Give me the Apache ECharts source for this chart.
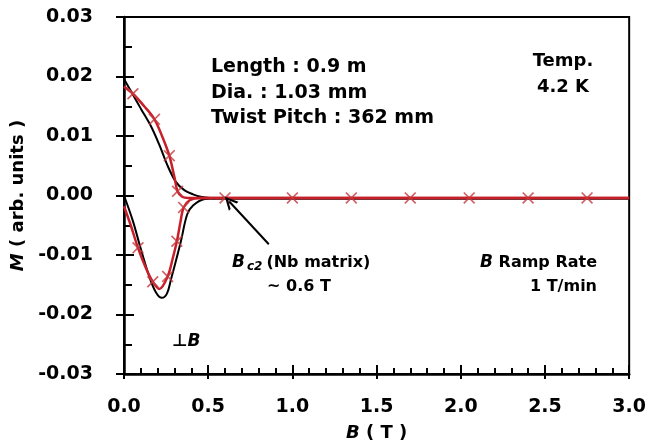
<!DOCTYPE html>
<html>
<head>
<meta charset="utf-8">
<script src="https://cdn.jsdelivr.net/npm/echarts@6/dist/echarts.min.js"></script>
<style>html,body{margin:0;padding:0;background:#fff;}#c{width:649px;height:447px;}</style>
</head>
<body>
<div id="c"></div>
<script>
// Black curve (measured), upper branch and lower branch
var blackUpB = [0, 0.05, 0.10, 0.161, 0.21, 0.259, 0.308, 0.358, 0.41, 0.456, 0.55, 3.0];
var blackUpM = [0.0196, 0.0171, 0.0146, 0.0116, 0.0085, 0.0050, 0.0023, 0.0009, 0.0002, -0.0002, -0.0005, -0.0005];
var blackLoB = [0, 0.053, 0.098, 0.151, 0.19, 0.225, 0.255, 0.28, 0.31, 0.338, 0.375, 0.41, 0.48, 0.55, 3.0];
var blackLoM = [0, -0.0043, -0.0088, -0.0137, -0.0163, -0.0172, -0.0165, -0.0140, -0.0108, -0.0077, -0.0032, -0.0017, -0.0006, -0.0005, -0.0005];
// Red curve (measured) with its marker points
var redUpB = [0, 0.053, 0.12, 0.181, 0.23, 0.269, 0.30, 0.318, 0.345, 0.38, 0.45, 3.0];
var redUpM = [0.0183, 0.0171, 0.0150, 0.0128, 0.0097, 0.0067, 0.0030, 0.0007, -0.0002, -0.0004, -0.0004, -0.0004];
var redLoB = [0, 0.04, 0.083, 0.13, 0.171, 0.21, 0.259, 0.29, 0.314, 0.335, 0.354, 0.39, 0.45, 3.0];
var redLoM = [-0.0018, -0.0050, -0.0088, -0.0122, -0.0145, -0.0157, -0.0136, -0.0105, -0.0077, -0.0045, -0.0020, -0.0008, -0.0004, -0.0004];
var redMarkB = [0.053, 0.181, 0.269, 0.318, 0.083, 0.171, 0.259, 0.314, 0.354, 0.6, 1.0, 1.35, 1.7, 2.05, 2.4, 2.75];
var redMarkM = [0.0171, 0.0128, 0.0067, 0.0007, -0.0088, -0.0145, -0.0136, -0.0077, -0.0020, -0.0004, -0.0004, -0.0004, -0.0004, -0.0004, -0.0004, -0.0004];
// Axis ticks
var xTicks = [0, 0.5, 1.0, 1.5, 2.0, 2.5, 3.0];
var yTicks = [-0.03, -0.02, -0.01, 0.00, 0.01, 0.02, 0.03];
// Arrow annotation (data coords): from tail to head
var arrowFrom = [0.86, -0.0082];
var arrowTo = [0.625, -0.0010];

function zip(a, b) { return a.map(function (v, i) { return [v, b[i]]; }); }

var FONT = 'DejaVu Sans';
var chart = echarts.init(document.getElementById('c'), null, {renderer: 'canvas'});
var xMin = xTicks[0], xMax = xTicks[xTicks.length - 1];
var yMin = yTicks[0], yMax = yTicks[yTicks.length - 1];
var xInt = xTicks[1] - xTicks[0], yInt = 0.01;

var crossPath = 'path://M0,1 L1,0 L5,4 L9,0 L10,1 L6,5 L10,9 L9,10 L5,6 L1,10 L0,9 L4,5 Z';
var openArrow = 'path://M0,10 L5,0 L10,10 L8.2,10 L5,3.6 L1.8,10 Z';

var option = {
  animation: false,
  backgroundColor: '#fff',
  grid: {left: 124, right: 16, top: 17, bottom: 70, show: true, borderColor: '#000', borderWidth: 2, backgroundColor: 'transparent'},
  xAxis: [{
    type: 'value', min: xMin, max: xMax, interval: xInt, position: 'bottom',
    axisLine: {show: true, onZero: false, lineStyle: {color: '#000', width: 2.5}},
    axisTick: {show: true, inside: true, length: 9, lineStyle: {color: '#000', width: 2}},
    minorTick: {show: true, splitNumber: 5, length: 6, lineStyle: {color: '#000', width: 2}},
    splitLine: {show: false}, minorSplitLine: {show: false},
    axisLabel: {margin: 24, color: '#000', fontFamily: FONT, fontWeight: 'bold', fontSize: 19,
      formatter: function (v) { return v.toFixed(1); }},
    name: '{i|B} ( T )', nameLocation: 'middle', nameGap: 50,
    nameTextStyle: {color: '#000', fontFamily: FONT, fontWeight: 'bold', fontSize: 18,
      rich: {i: {fontStyle: 'italic', fontWeight: 'bold', fontFamily: FONT, fontSize: 18, color: '#000'}}}
  }, {
    type: 'value', min: xMin, max: xMax, interval: xInt, position: 'bottom',
    axisLine: {show: false, onZero: false},
    axisTick: {show: true, inside: false, length: 5, lineStyle: {color: '#000', width: 2}},
    axisLabel: {show: false}, splitLine: {show: false}
  }],
  yAxis: [{
    type: 'value', min: yMin, max: yMax, interval: yInt, position: 'left',
    axisLine: {show: true, onZero: false, lineStyle: {color: '#000', width: 2.5}},
    axisTick: {show: true, inside: true, length: 10, lineStyle: {color: '#000', width: 2}},
    minorTick: {show: true, splitNumber: 2, length: 8, lineStyle: {color: '#000', width: 2}},
    splitLine: {show: false}, minorSplitLine: {show: false},
    axisLabel: {margin: 31, color: '#000', fontFamily: FONT, fontWeight: 'bold', fontSize: 19,
      formatter: function (v) { return (Math.abs(v) < 1e-9 ? 0 : v).toFixed(2); }},
    name: '{i|M} ( arb. units )', nameLocation: 'middle', nameGap: 96, nameRotate: 90,
    nameTextStyle: {color: '#000', fontFamily: FONT, fontWeight: 'bold', fontSize: 18,
      rich: {i: {fontStyle: 'italic', fontWeight: 'bold', fontFamily: FONT, fontSize: 18, color: '#000'}}}
  }, {
    type: 'value', min: yMin, max: yMax, interval: yInt, position: 'left',
    axisLine: {show: false, onZero: false},
    axisTick: {show: true, inside: false, length: 8, lineStyle: {color: '#000', width: 2}},
    axisLabel: {show: false}, splitLine: {show: false}
  }],
  series: [
    {type: 'line', data: zip(blackUpB, blackUpM), smooth: 0.35, symbol: 'none', lineStyle: {color: '#000', width: 2}, z: 2},
    {type: 'line', data: zip(blackLoB, blackLoM), smooth: 0.35, symbol: 'none', lineStyle: {color: '#000', width: 2}, z: 2,
      markLine: {silent: true, symbol: ['none', openArrow], symbolSize: 13, label: {show: false},
        lineStyle: {color: '#000', width: 2, type: 'solid'},
        data: [[{coord: arrowFrom}, {coord: arrowTo}]]}},
    {type: 'line', data: zip(redUpB, redUpM), smooth: 0.35, symbol: 'none', lineStyle: {color: '#c8202a', width: 2.5}, z: 3},
    {type: 'line', data: zip(redLoB, redLoM), smooth: 0.35, symbol: 'none', lineStyle: {color: '#c8202a', width: 2.5}, z: 3},
    {type: 'scatter', data: zip(redMarkB, redMarkM), symbol: crossPath, symbolSize: 12, itemStyle: {color: '#c33a3f'}, z: 4}
  ],
  graphic: [
    {type: 'text', left: 211, top: 58, style: {text: 'Length : 0.9 m', font: 'bold 19px "DejaVu Sans"', fill: '#000'}},
    {type: 'text', left: 211, top: 84, style: {text: 'Dia. : 1.03 mm', font: 'bold 19px "DejaVu Sans"', fill: '#000'}},
    {type: 'text', left: 211, top: 109, style: {text: 'Twist Pitch : 362 mm', font: 'bold 19px "DejaVu Sans"', fill: '#000'}},
    {type: 'text', x: 563, y: 61, style: {text: 'Temp.', font: 'bold 18px "DejaVu Sans"', fill: '#000', align: 'center', verticalAlign: 'middle'}},
    {type: 'text', x: 563, y: 87, style: {text: '4.2 K', font: 'bold 18px "DejaVu Sans"', fill: '#000', align: 'center', verticalAlign: 'middle'}},
    {type: 'text', x: 232, y: 263, style: {text: '{i|B}{s|c2}(Nb matrix)', font: 'bold 16px "DejaVu Sans"', fill: '#000', verticalAlign: 'middle',
      rich: {i: {font: 'italic bold 17px "DejaVu Sans"', fill: '#000', padding: [0, 2, 0, 0]}, s: {font: 'italic bold 12px "DejaVu Sans"', fill: '#000', padding: [8, 4, 0, 0]}}}},
    {type: 'text', x: 299, y: 287, style: {text: '~ 0.6 T', font: 'bold 16px "DejaVu Sans"', fill: '#000', align: 'center', verticalAlign: 'middle'}},
    {type: 'text', x: 597, y: 263, style: {text: '{i|B} Ramp Rate', font: 'bold 16px "DejaVu Sans"', fill: '#000', align: 'right', verticalAlign: 'middle',
      rich: {i: {font: 'italic bold 17px "DejaVu Sans"', fill: '#000'}}}},
    {type: 'text', x: 597, y: 287, style: {text: '1 T/min', font: 'bold 16px "DejaVu Sans"', fill: '#000', align: 'right', verticalAlign: 'middle'}},
    {type: 'text', x: 172, y: 342, style: {text: '⊥{i|B}', font: 'bold 17px "DejaVu Sans"', fill: '#000', verticalAlign: 'middle',
      rich: {i: {font: 'italic bold 17px "DejaVu Sans"', fill: '#000'}}}}
  ]
};
chart.setOption(option);
</script>
</body>
</html>
